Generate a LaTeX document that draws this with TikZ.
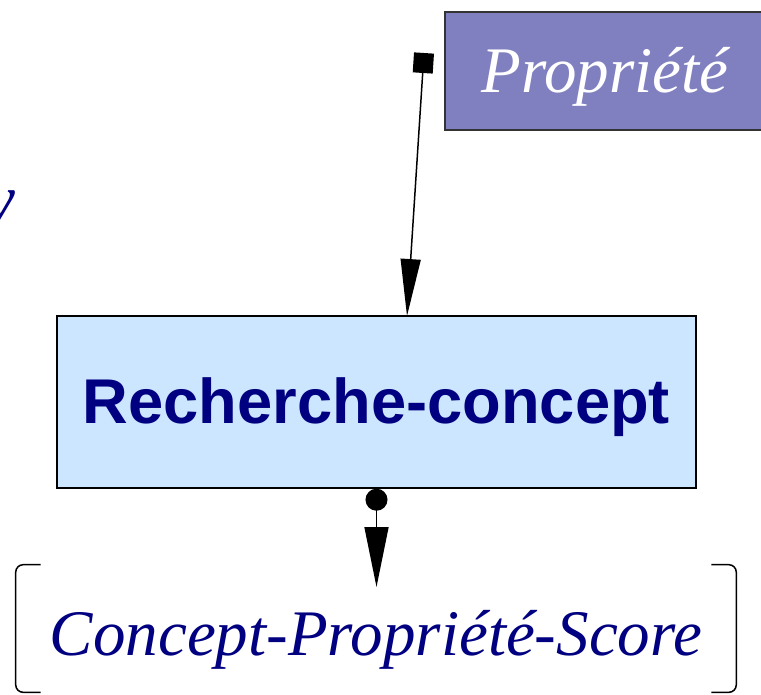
\documentclass[tikz,border=0pt]{standalone}
\usepackage{fontspec}
\setmainfont{Liberation Serif}
\setsansfont{Liberation Sans}
\usetikzlibrary{arrows.meta}
\definecolor{navy}{RGB}{0,0,128}
\definecolor{propfill}{RGB}{128,128,192}
\definecolor{procfill}{RGB}{204,230,255}

\begin{document}
\begin{tikzpicture}[x=0.02cm,y=-0.02cm,
    bigit/.style={font=\fontsize{37}{44}\selectfont\itshape},
    link/.style={line width=0.85pt}]
    \useasboundingbox (0,0) rectangle (761,694);
    \node[bigit,text=navy,inner sep=0pt,anchor=east] (frag) at (16,213) {y};
    \node[bigit,draw=black!80,fill=propfill,line width=0.85pt,minimum width=6.4cm,minimum height=2.36cm,text height=1cm,text depth=0.16cm,text=white] (prop) at (605,71) {Propriété};
    \node[draw,fill=procfill,line width=0.85pt,minimum width=12.78cm,minimum height=3.44cm,text height=1cm,text depth=0.16cm,text=navy,font=\fontsize{36}{43}\selectfont\sffamily\bfseries] (rc) at (376.5,402) {Recherche-concept};
    \node[bigit,text=navy,minimum width=14.4cm,minimum height=2.54cm,text height=1.1cm,text depth=0.04cm] (cps) at (376,628.5) {Concept-Propriété-Score};
    % bracket round the output
    \draw[link,rounded corners=0.15cm] ([xshift=0.5cm]cps.north west) -- (cps.north west) -- (cps.south west) -- ([xshift=0.5cm]cps.south west);
    \draw[link,rounded corners=0.15cm] ([xshift=-0.5cm]cps.north east) -- (cps.north east) -- (cps.south east) -- ([xshift=-0.5cm]cps.south east);
    % connectors
    \coordinate (src) at (424,53);
    \coordinate (dst) at (407,316);
    \coordinate (tip) at (376.5,587);
    \draw[link,{Square[length=0.4cm,width=0.4cm]}-{Triangle[length=1.14cm,width=0.4cm]}] (src) -- (dst);
    \draw[link,{Circle[length=0.44cm]}-{Triangle[length=1.2cm,width=0.48cm]}] (rc.south) -- (tip);
\end{tikzpicture}
\end{document}
